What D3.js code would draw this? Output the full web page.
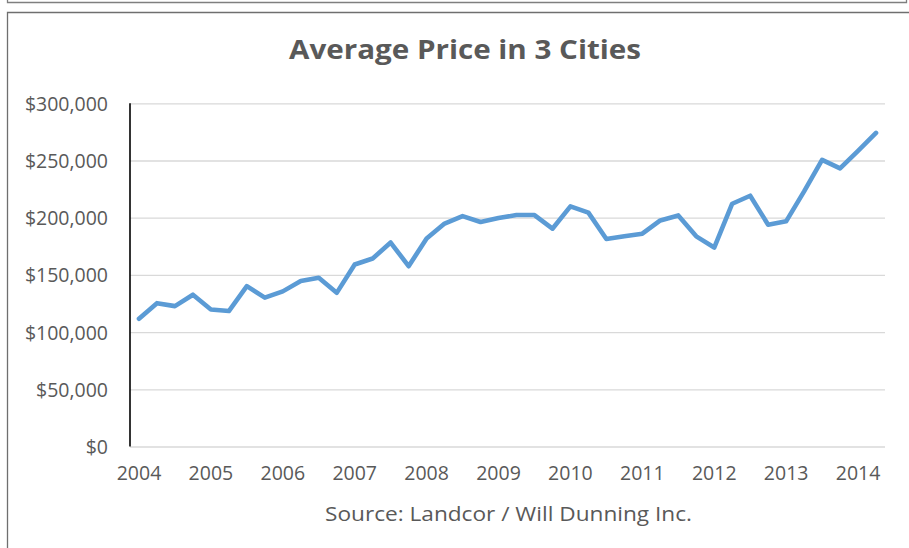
<!DOCTYPE html>
<html>
<head>
<meta charset="utf-8">
<script src="https://cdn.jsdelivr.net/npm/d3@7"></script>
<style>
  html, body { margin: 0; padding: 0; background: #ffffff; }
  svg { display: block; }
</style>
</head>
<body>
<script>
// ---------- data ----------
const title = "Average Price in 3 Cities";
const sourceNote = "Source: Landcor / Will Dunning Inc.";
const years = ["2004","2005","2006","2007","2008","2009","2010","2011","2012","2013","2014"];
const quarters = ["Q1","Q2","Q3","Q4"];
// 42 quarterly categories: 2004 Q1 .. 2014 Q2
const categories = [];
years.forEach(y => quarters.forEach(q => { if (categories.length < 42) categories.push(y + " " + q); }));
const prices = [
  111700, 125300, 122700, 132700, 119800, 118400, 140200, 130100,
  135600, 144600, 147500, 134300, 159100, 164300, 178300, 157600,
  181800, 194900, 201400, 196200, 199700, 202300, 202300, 190400,
  209900, 204400, 181400, 183700, 186000, 197600, 202000, 183700,
  173900, 212200, 219200, 193900, 196800, 223000, 250600, 243100,
  258400, 274100
];
const yTicks = [0, 50000, 100000, 150000, 200000, 250000, 300000];

// ---------- layout ----------
const W = 909, H = 548;
const plot = { left: 130, right: 885, top: 103.3, bottom: 446.5 };
const textColor = "#595959";
const font = "'Open Sans', 'Noto Sans', sans-serif";

const svg = d3.select("body").append("svg")
  .attr("width", W).attr("height", H)
  .attr("viewBox", `0 0 ${W} ${H}`);

// outer frames (screenshot borders)
svg.append("path")
  .attr("d", `M7.5,0 V2.5 H906.5 V0`)
  .attr("fill", "none").attr("stroke", "#7f7f7f").attr("stroke-width", 1.3);
svg.append("path")
  .attr("d", `M7.5,${H} V12.5 H${W}`)
  .attr("fill", "none").attr("stroke", "#6f6f6f").attr("stroke-width", 1.3);

// scales
const x = d3.scaleBand().domain(categories).range([plot.left, plot.right]);
const y = d3.scaleLinear().domain([0, 300000]).range([plot.bottom, plot.top]);
const cx = c => x(c) + x.bandwidth() / 2;

// gridlines
const grid = svg.append("g")
  .attr("transform", `translate(${plot.left},0)`)
  .call(d3.axisLeft(y).tickValues(yTicks).tickSize(-(plot.right - plot.left)).tickFormat(""));
grid.select(".domain").remove();
grid.selectAll(".tick line").attr("stroke", "#d9d9d9").attr("stroke-width", 1.3);

// y labels
const yAxis = svg.append("g")
  .attr("transform", `translate(${plot.left},0)`)
  .call(d3.axisLeft(y).tickValues(yTicks).tickSize(0).tickPadding(22)
        .tickFormat(d => "$" + d3.format(",")(d)));
yAxis.select(".domain").remove();
yAxis.selectAll("text")
  .attr("fill", textColor).attr("font-family", font).attr("font-size", 19.5)
  .attr("dy", "0.36em");

// vertical axis line
svg.append("line")
  .attr("x1", plot.left).attr("x2", plot.left)
  .attr("y1", y(300000)).attr("y2", y(0))
  .attr("stroke", "#000000").attr("stroke-width", 1.6);

// x labels (one per year, at Q1)
const xTickVals = categories.filter(c => c.endsWith("Q1"));
const xAxis = svg.append("g")
  .attr("transform", `translate(0,${plot.bottom})`)
  .call(d3.axisBottom(x).tickValues(xTickVals).tickSize(0).tickPadding(20)
        .tickFormat(c => c.slice(0, 4)));
xAxis.select(".domain").remove();
xAxis.selectAll("text")
  .attr("fill", textColor).attr("font-family", font).attr("font-size", 19.5)
  .attr("dy", "0.71em");

// line
const line = d3.line().x((d, i) => cx(categories[i])).y(d => y(d));
svg.append("path")
  .datum(prices)
  .attr("d", line)
  .attr("fill", "none")
  .attr("stroke", "#5b9bd5")
  .attr("stroke-width", 4.6)
  .attr("stroke-linejoin", "round")
  .attr("stroke-linecap", "round");

// title
svg.append("text")
  .attr("x", 465).attr("y", 59)
  .attr("text-anchor", "middle")
  .attr("fill", textColor)
  .attr("font-family", font).attr("font-weight", "bold").attr("font-size", 27.5)
  .attr("textLength", 352).attr("lengthAdjust", "spacingAndGlyphs")
  .text(title);

// source
svg.append("text")
  .attr("x", 508.5).attr("y", 521)
  .attr("text-anchor", "middle")
  .attr("fill", textColor)
  .attr("font-family", font).attr("font-size", 19.5)
  .attr("textLength", 367).attr("lengthAdjust", "spacingAndGlyphs")
  .text(sourceNote);
</script>
</body>
</html>
